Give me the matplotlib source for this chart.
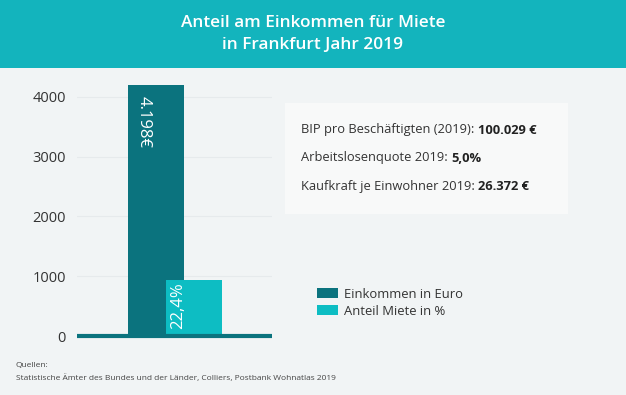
import matplotlib.pyplot as plt
from matplotlib.patches import Rectangle

plt.rcParams['font.family'] = ['Open Sans', 'DejaVu Sans']

title = "Anteil am Einkommen für Miete\nin Frankfurt Jahr 2019"
series = ["Einkommen in Euro", "Anteil Miete in %"]
values = [4198, 940]
bar_labels = ["4.198€", "22,4%"]
colors = ["#0B737E", "#0DBDC3"]
yticks = [0, 1000, 2000, 3000, 4000]
info_lines = [
    ("BIP pro Beschäftigten (2019): ", "100.029 €"),
    ("Arbeitslosenquote 2019: ", "5,0%"),
    ("Kaufkraft je Einwohner 2019: ", "26.372 €"),
]
sources = "Quellen:\nStatistische Ämter des Bundes und der Länder, Colliers, Postbank Wohnatlas 2019"

bg = "#F1F4F5"
fig = plt.figure(figsize=(6.26, 3.95), dpi=100, facecolor=bg)

# header band
fig.patches.append(Rectangle((0, 1 - 68 / 395), 1, 68 / 395, transform=fig.transFigure,
                             facecolor="#13B4BD", edgecolor="none", zorder=0))
fig.text(0.5, 1 - 34 / 395, title, ha="center", va="center", color="white",
         fontsize=12.4, fontweight="semibold", linespacing=1.5)

# info box
fig.patches.append(Rectangle((285 / 626, 1 - 214 / 395), 283 / 626, 111 / 395,
                             transform=fig.transFigure, facecolor="#F8F9F9",
                             edgecolor="none", zorder=0))
renderer = fig.canvas.get_renderer()
for i, (lab, val) in enumerate(info_lines):
    y = 1 - (130 + 28 * i) / 395
    t = fig.text(301 / 626, y, lab, fontsize=9.3, color="#333333", va="center")
    bb = t.get_window_extent(renderer=renderer)
    fig.text(bb.x1 / fig.bbox.width, y, val, fontsize=9.3, color="#222222",
             fontweight="bold", va="center")

ax = fig.add_axes([77 / 626, 59 / 395, 195 / 626, 257 / 395])
ax.set_facecolor(bg)
positions = [0, 0.67]
for x, v, c, s in zip(positions, values, colors, series):
    ax.bar(x, v, width=1.0, color=c, label=s, zorder=3)

ax.text(positions[0] - 0.22, values[0] - 180, bar_labels[0], rotation=270, ha="center",
        va="top", color="white", fontsize=12)
ax.text(positions[1] - 0.28, 110, bar_labels[1], rotation=90, ha="center",
        va="bottom", color="white", fontsize=12)

ax.set_xlim(-1.41, 2.07)
ax.set_ylim(0, 4300)
ax.set_yticks(yticks)
ax.set_xticks([])
ax.grid(axis="y", color="#E6EAEC", linewidth=0.8, zorder=0)
for sp in ["top", "right", "left"]:
    ax.spines[sp].set_visible(False)
ax.spines["bottom"].set_color("#0B737E")
ax.spines["bottom"].set_linewidth(3)
ax.spines["bottom"].set_capstyle("butt")
ax.spines["bottom"].set_zorder(4)
ax.tick_params(axis="y", length=0, pad=8, labelsize=10.5, labelcolor="#333333")

fig.legend(loc="upper left", bbox_to_anchor=(305 / 626, 1 - 276 / 395), frameon=False,
           fontsize=9.4, handlelength=1.6, handleheight=0.8, labelspacing=0.3,
           handletextpad=0.45, labelcolor="#333333")

fig.text(16 / 626, 1 - 372 / 395, sources, fontsize=6.0, color="#444444", va="center",
         linespacing=1.8)

fig.savefig("out.png", dpi=100, facecolor=bg)
